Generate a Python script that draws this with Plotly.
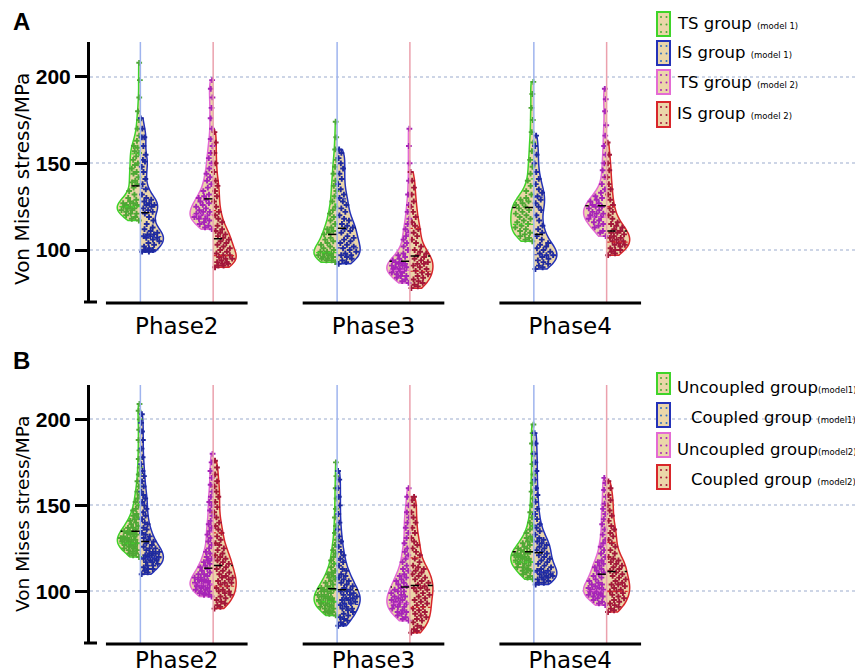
import numpy as np
import plotly.graph_objects as go

# ---------------- data ----------------
phases = ["Phase2", "Phase3", "Phase4"]
phase_pos = [1, 2, 3]
y_ticks = [100, 150, 200]

legend_a_main = ["TS group", "IS group", "TS group", "IS group"]
legend_a_sub = ["(model 1)", "(model 1)", "(model 2)", "(model 2)"]
legend_b_main = ["Uncoupled group", "Coupled group", "Uncoupled group", "Coupled group"]
legend_b_sub = ["(model1)", "(model1)", "(model2)", "(model2)"]

# Panel A (TS vs IS)
A_P2_TS1 = [117,118,119,120,121,121,122,123,123,124,124,125,125,126,126,127,127,128,129,130,132,134,136,138,139,140,142,144,145,147,149,150,152,154,156,157,159,160,163,166,170,175,180,188,198,208]
A_P2_IS1 = [99,99,100,100,101,102,103,104,105,106,107,107,108,108,109,109,110,111,112,113,115,117,119,121,122,123,124,125,126,126,127,128,129,130,132,135,138,141,145,148,151,152,155,160,165,165,170,176]
A_P2_TS2 = [112,113,114,115,116,117,118,118,119,120,120,121,122,122,123,124,125,126,127,128,129,130,131,132,134,136,138,140,142,144,147,150,153,156,160,164,170,176,182,188,193,198]
A_P2_IS2 = [90,91,91,92,92,93,93,94,95,95,96,97,97,98,99,100,101,102,103,104,105,106,107,108,109,110,111,112,114,116,118,120,122,125,128,131,134,137,140,145,150,156,162,168]

A_P3_TS1 = [93,94,94,95,95,96,96,97,97,98,98,99,99,100,101,102,103,104,105,106,107,109,110,111,112,113,115,117,119,121,123,125,128,131,134,137,140,144,148,152,158,165,174]
A_P3_IS1 = [92,93,94,95,96,97,97,98,99,100,101,102,103,104,105,106,107,108,110,111,112,113,114,115,117,118,120,122,124,126,128,130,132,135,138,141,144,147,150,153,156,158]
A_P3_TS2 = [81,82,83,84,85,85,86,87,87,88,88,89,89,90,90,91,91,92,92,93,93,94,95,96,97,98,100,102,104,106,108,110,112,115,118,122,126,132,140,150,160,170]
A_P3_IS2 = [78,79,80,81,82,83,84,85,86,87,88,89,90,91,92,92,93,94,95,96,97,98,99,100,102,104,106,108,110,112,114,116,119,122,125,128,132,136,140,145]

A_P4_TS1 = [105,106,107,108,109,110,111,112,113,114,115,116,117,118,119,120,121,122,123,124,125,126,127,128,129,130,132,134,137,140,144,148,152,157,162,168,175,182,190,197]
A_P4_IS1 = [89,90,91,92,93,94,95,96,97,97,98,99,100,101,102,103,104,106,108,110,112,114,117,120,123,125,127,129,131,133,135,138,141,145,150,155,160,166]
A_P4_TS2 = [108,110,111,113,114,115,116,117,118,119,119,120,121,121,122,123,124,125,125,126,127,128,129,130,131,133,135,138,142,146,150,155,160,166,172,180,187,193]
A_P4_IS2 = [97,98,99,100,100,101,102,103,103,104,105,105,106,107,107,108,109,110,110,111,112,113,114,115,116,118,120,122,124,126,129,132,135,138,142,146,150,155,162]

# Panel B (Uncoupled vs Coupled)
B_P2_UC1 = [120,121,122,122,123,124,124,125,125,126,126,127,127,128,128,128,129,129,130,130,130,131,131,132,132,133,133,134,134,135,135,136,137,137,138,139,140,141,142,143,144,145,147,148,150,152,154,156,158,161,164,168,172,177,182,188,194,200,205,209]
B_P2_C1 = [110,111,112,113,113,114,115,115,116,117,117,118,118,119,119,120,120,121,121,122,122,123,123,124,125,125,126,127,128,129,130,131,132,133,134,136,137,139,140,142,144,146,148,150,152,154,156,158,161,164,167,170,174,178,183,188,193,198,203]
B_P2_UC2 = [97,98,98,99,99,100,100,101,101,102,102,103,103,104,104,105,105,106,106,107,107,108,108,109,110,110,111,112,113,114,115,116,117,118,119,120,122,123,125,127,129,131,133,135,137,139,141,144,147,150,152,155,158,162,166,170,175,180]
B_P2_C2 = [90,91,92,93,94,95,96,97,98,99,100,100,101,102,103,104,105,105,106,107,108,108,109,110,111,112,113,114,115,116,117,118,119,120,121,122,124,125,127,128,130,132,134,136,138,140,143,146,149,152,155,158,161,164,168,172,176]

B_P3_UC1 = [86,87,88,88,89,90,90,91,91,92,92,93,93,94,94,95,95,96,96,97,97,98,98,99,100,100,101,101,102,102,103,104,105,106,107,108,109,110,111,112,114,116,118,120,122,124,127,130,134,138,143,148,154,160,167,175]
B_P3_C1 = [80,81,82,83,84,85,86,87,88,89,90,90,91,92,93,93,94,95,95,96,96,97,98,98,99,100,100,101,102,103,104,105,106,107,108,109,110,112,113,115,117,119,121,123,126,129,132,136,140,145,150,155,160,165,170]
B_P3_UC2 = [83,84,85,86,87,88,88,89,90,91,91,92,93,93,94,95,95,96,97,97,98,99,100,100,101,102,103,104,105,106,107,108,109,110,112,113,115,117,119,121,123,125,128,131,134,137,140,143,146,150,155,160]
B_P3_C2 = [76,77,78,79,80,82,83,84,85,86,87,88,89,90,91,92,93,94,95,96,97,98,99,100,101,102,102,103,104,105,106,107,108,109,110,111,112,113,114,115,117,119,121,123,125,127,129,131,134,137,140,143,146,150,153,155]

B_P4_UC1 = [107,108,109,110,111,112,112,113,114,114,115,116,116,117,117,118,118,119,119,120,120,121,121,122,122,123,123,124,125,125,126,127,128,129,130,131,132,134,136,138,140,143,146,150,154,158,163,168,174,180,186,192,197]
B_P4_C1 = [104,105,105,106,107,107,108,108,109,109,110,110,111,112,112,113,114,115,116,117,118,119,120,121,122,123,124,125,126,127,128,129,130,131,133,135,137,139,142,145,148,152,156,160,165,170,175,180,186,192]
B_P4_UC2 = [92,93,94,95,96,97,97,98,98,99,99,100,100,101,101,102,102,103,104,104,105,106,107,108,109,110,111,112,113,114,115,116,117,118,120,122,124,126,128,130,133,136,139,142,145,148,151,155,159,163,166]
B_P4_C2 = [88,89,90,91,92,93,94,95,96,97,98,99,100,100,101,102,103,104,104,105,106,107,108,109,110,111,112,113,114,115,116,117,118,119,120,122,124,126,128,130,132,134,136,138,141,144,147,150,153,156,160,164]

panel_a = [[A_P2_TS1, A_P2_IS1, A_P2_TS2, A_P2_IS2],
           [A_P3_TS1, A_P3_IS1, A_P3_TS2, A_P3_IS2],
           [A_P4_TS1, A_P4_IS1, A_P4_TS2, A_P4_IS2]]
panel_b = [[B_P2_UC1, B_P2_C1, B_P2_UC2, B_P2_C2],
           [B_P3_UC1, B_P3_C1, B_P3_UC2, B_P3_C2],
           [B_P4_UC1, B_P4_C1, B_P4_UC2, B_P4_C2]]

# ---------------- style ----------------
W, H = 863, 672          # window size
OX, OY = 8, 8            # page body margin offset of the figure div
FW, FH = W - OX, H - OY  # figure size so it exactly fills the window
FILL = "#EBD6A9"
LINE_COLORS = ["#3FD42A", "#2432B8", "#E46AD4", "#D8262B"]
PT_COLORS = ["#4DA834", "#1F2A9E", "#A624B8", "#A3173A"]
LEG_DOT = ["#4DA834", "#2F6FC0", "#A624B8", "#A3173A"]
VLINE = ["#9FB4EE", "#EBA1AD"]
OFFSET = 0.185
VWIDTH = 0.234
BW = 5.0
TXT = "DejaVu Sans"
GOLD = 0.6180339887

def px_x(p):
    return (p - OX) / FW

def px_y(p):
    return 1 - (p - OY) / FH

panels = [
    dict(data=panel_a, xa="x", ya="y", top=42, bottom=302, letter="A", letter_y=21,
         title_y=179, title_size=20, leg_main=legend_a_main, leg_sub=legend_a_sub,
         leg_boxes=[(12, 36), (41, 65), (70, 94), (102, 127)], leg_text_y=[24, 53, 82, 114],
         leg_text_x=[675, 675, 675, 675], sep=" "),
    dict(data=panel_b, xa="x2", ya="y2", top=385, bottom=643, letter="B", letter_y=360,
         title_y=514, title_size=18.5, leg_main=legend_b_main, leg_sub=legend_b_sub,
         leg_boxes=[(373, 394), (403, 427), (433, 457), (465, 489)], leg_text_y=[387, 417, 449, 479],
         leg_text_x=[675, 689, 675, 689], sep=""),
]

fig = go.Figure()
shapes = []
annotations = []


def kde(vals, pts):
    v = np.asarray(vals, float)
    pts = np.atleast_1d(np.asarray(pts, float))
    return np.exp(-0.5 * ((pts[:, None] - v[None, :]) / BW) ** 2).sum(1)


for pn in panels:
    for pi, ph in enumerate(phase_pos):
        for gi in range(4):
            vals = pn["data"][pi][gi]
            model = gi // 2
            xc = ph - OFFSET if model == 0 else ph + OFFSET
            side = "negative" if gi % 2 == 0 else "positive"
            sgn = -1 if side == "negative" else 1
            fig.add_trace(go.Violin(
                x=[xc] * len(vals), y=vals, xaxis=pn["xa"], yaxis=pn["ya"],
                side=side, width=VWIDTH, bandwidth=BW, spanmode="hard",
                fillcolor=FILL, line=dict(color=LINE_COLORS[gi], width=1.5),
                points=False, showlegend=False, hoverinfo="y",
            ))
            v = np.asarray(vals, float)
            grid = np.linspace(v.min(), v.max(), 300)
            dmax = kde(v, grid).max()
            hw_pts = VWIDTH / 2 * kde(v, v) / dmax
            frac = 0.12 + 0.76 * ((np.arange(len(v)) * GOLD) % 1.0)
            fig.add_trace(go.Scatter(
                x=xc + sgn * hw_pts * frac, y=v, xaxis=pn["xa"], yaxis=pn["ya"],
                mode="markers", marker=dict(color=PT_COLORS[gi], size=4.8, symbol="cross"),
                showlegend=False, hoverinfo="y"))
            q1, med, q3 = np.percentile(v, [25, 50, 75])
            for q, dash, col, lw in [(q1, "dot", LINE_COLORS[gi], 1.2), (q3, "dot", LINE_COLORS[gi], 1.2),
                                     (med, "dash", "black", 1.5)]:
                hw = VWIDTH / 2 * kde(v, q)[0] / dmax
                fig.add_trace(go.Scatter(
                    x=[xc, xc + sgn * hw], y=[q, q], xaxis=pn["xa"], yaxis=pn["ya"],
                    mode="lines", line=dict(color=col, width=lw, dash=dash),
                    showlegend=False, hoverinfo="skip"))
        for m in range(2):
            xc = ph - OFFSET if m == 0 else ph + OFFSET
            shapes.append(dict(type="line", xref=pn["xa"], yref="paper", x0=xc, x1=xc,
                               y0=px_y(pn["bottom"]), y1=px_y(pn["top"]),
                               line=dict(color=VLINE[m], width=1.5), layer="above"))
        shapes.append(dict(type="line", xref=pn["xa"], yref="paper", x0=ph - 0.36, x1=ph + 0.36,
                           y0=px_y(pn["bottom"] + 1), y1=px_y(pn["bottom"] + 1),
                           line=dict(color="black", width=3)))
    shapes.append(dict(type="line", xref="paper", yref="paper", x0=px_x(84), x1=px_x(97),
                       y0=px_y(pn["bottom"]), y1=px_y(pn["bottom"]),
                       line=dict(color="black", width=3)))
    annotations.append(dict(text="<b>" + pn["letter"] + "</b>", x=px_x(11), y=px_y(pn["letter_y"]),
                            xref="paper", yref="paper", xanchor="left", yanchor="middle", showarrow=False,
                            font=dict(family="Liberation Sans", size=24, color="black")))
    annotations.append(dict(text="Von Mises stress/MPa", x=px_x(22), y=px_y(pn["title_y"]),
                            xref="paper", yref="paper", xanchor="center", yanchor="middle",
                            textangle=-90, showarrow=False,
                            font=dict(family=TXT, size=pn["title_size"], color="black")))
    for gi in range(4):
        t0, t1 = pn["leg_boxes"][gi]
        shapes.append(dict(type="rect", xref="paper", yref="paper", x0=px_x(657), x1=px_x(670),
                           y0=px_y(t1), y1=px_y(t0), fillcolor=FILL,
                           line=dict(color=LINE_COLORS[gi], width=2)))
        for cx in (661, 666.5):
            for k in range(3):
                cy = t0 + 5 + k * (t1 - t0 - 9) / 2
                shapes.append(dict(type="circle", xref="paper", yref="paper",
                                   x0=px_x(cx - 1), x1=px_x(cx + 1), y0=px_y(cy + 1), y1=px_y(cy - 1),
                                   fillcolor=LEG_DOT[gi], line=dict(width=0)))
        txt = (pn["leg_main"][gi] + pn["sep"] + "<span style='font-size:8.5px'>" +
               ("&nbsp;&nbsp;" if pn["letter"] == "B" and gi % 2 == 1 else "") +
               pn["leg_sub"][gi] + "</span>")
        annotations.append(dict(text=txt, x=px_x(pn["leg_text_x"][gi]), y=px_y(pn["leg_text_y"][gi]),
                                xref="paper", yref="paper", xanchor="left", yanchor="middle",
                                showarrow=False, font=dict(family=TXT, size=16.5, color="black")))

xdom = [px_x(90), 1.0]
xrange = [0.559, 4.488]
axis_common_x = dict(domain=xdom, range=xrange, showline=False, showgrid=False, zeroline=False,
                     tickvals=phase_pos, ticktext=phases, ticks="", automargin=False,
                     tickfont=dict(family=TXT, size=23, color="black"))
axis_common_y = dict(range=[70, 220], showline=True, linewidth=3, linecolor="black",
                     ticks="outside", ticklen=12, tickwidth=3, tickcolor="black", automargin=False,
                     tickvals=y_ticks, ticktext=["<b>%d</b>" % t for t in y_ticks],
                     showgrid=True, gridcolor="#CDD5E6", griddash="dot", gridwidth=2,
                     zeroline=False,
                     tickfont=dict(family="Liberation Sans", size=21, color="black"))

fig.update_layout(
    width=FW, height=FH, margin=dict(l=0, r=0, t=0, b=0, autoexpand=False),
    paper_bgcolor="white", plot_bgcolor="white",
    violinmode="overlay", showlegend=False,
    xaxis=dict(**axis_common_x, anchor="y", ticklabelstandoff=8),
    yaxis=dict(**axis_common_y, domain=[px_y(302), px_y(42)], anchor="x"),
    xaxis2=dict(**axis_common_x, anchor="y2", ticklabelstandoff=1),
    yaxis2=dict(**axis_common_y, domain=[px_y(643), px_y(385)], anchor="x2"),
    shapes=shapes, annotations=annotations,
)

fig.write_html("out.html")
